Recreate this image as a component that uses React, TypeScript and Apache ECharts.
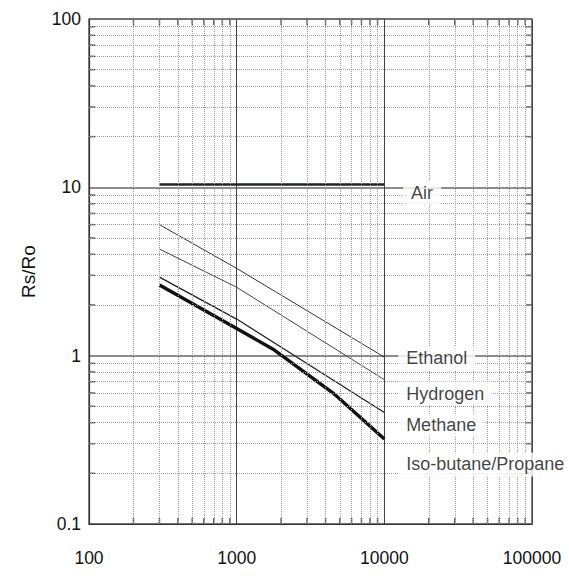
import React, { useEffect, useRef } from "react";
import * as echarts from "echarts";

// Axis tick labels
const xTickLabels = ["100", "1000", "10000", "100000"];
const yTickLabels = ["0.1", "1", "10", "100"];

// Decades and minor multipliers for the log grid
const xDecades = [100, 1000, 10000];
const yDecades = [0.1, 1, 10];
const minorMultipliers = [2, 3, 4, 5, 6, 7, 8, 9];

// Sensitivity curves (concentration ppm vs Rs/Ro)
const airX = [300, 10000];
const airY = [10.4, 10.4];
const ethanolX = [300, 1000, 10000];
const ethanolY = [6.0, 3.3, 0.98];
const hydrogenX = [300, 1000, 10000];
const hydrogenY = [4.3, 2.55, 0.72];
const methaneX = [300, 1000, 10000];
const methaneY = [2.93, 1.65, 0.46];
const isoX = [300, 1000, 1800, 4500, 10000];
const isoY = [2.63, 1.45, 1.08, 0.6, 0.32];

// Curve labels
const labelNames = ["Air", "Ethanol", "Hydrogen", "Methane", "Iso-butane/Propane"];
const labelAnchorX = [13400, 12400, 12400, 12400, 12400];
const labelAnchorY = [9.3, 0.97, 0.596, 0.385, 0.226];

const FONT = "'Liberation Sans', Arial, Helvetica, sans-serif";

const zip = (xs: number[], ys: number[]) => xs.map((x, i) => [x, ys[i]]);

export default function App() {
  const ref = useRef<HTMLDivElement>(null);

  useEffect(() => {
    if (!ref.current) return;
    const chart = echarts.init(ref.current, undefined, { renderer: "svg" });

    const xMinor: number[] = [];
    xDecades.forEach((d) => minorMultipliers.forEach((m) => xMinor.push(d * m)));
    const yMinor: number[] = [];
    yDecades.forEach((d) => minorMultipliers.forEach((m) => yMinor.push(+(d * m).toPrecision(3))));

    const minorLine = { color: "#9a9a9a", width: 1, type: "dotted" as const };

    const tickSeries = (data: number[][], size: number[], offset: number[]) => ({
      type: "scatter",
      data,
      symbol: "rect",
      symbolSize: size,
      symbolOffset: offset,
      itemStyle: { color: "#333" },
      silent: true,
      z: 4,
      clip: false,
    });

    const lineSeries = (name: string, xs: number[], ys: number[], width: number, color: string) => ({
      name,
      type: "line",
      data: zip(xs, ys),
      showSymbol: false,
      symbol: "none",
      lineStyle: { width, color },
      silent: true,
      z: 3,
    });

    chart.setOption({
      animation: false,
      backgroundColor: "#fff",
      grid: {
        left: 89,
        right: 37,
        top: 19,
        bottom: 55,
        show: true,
        borderColor: "#333",
        borderWidth: 1.2,
      },
      xAxis: {
        type: "log",
        logBase: 10,
        min: 100,
        max: 100000,
        axisLine: { show: true, lineStyle: { color: "#333", width: 1.2 } },
        axisTick: { show: false },
        axisLabel: {
          margin: 25,
          fontSize: 17.5,
          fontFamily: FONT,
          color: "#111",
          formatter: (v: number) => xTickLabels[Math.round(Math.log10(v)) - 2] ?? "",
        },
        splitLine: { show: true, lineStyle: { color: "#444", width: 1 } },
      },
      yAxis: {
        type: "log",
        logBase: 10,
        min: 0.1,
        max: 100,
        name: "Rs/Ro",
        nameLocation: "middle",
        nameGap: 51,
        nameTextStyle: { fontSize: 19, fontFamily: FONT, color: "#111" },
        axisLine: { show: true, lineStyle: { color: "#333", width: 1.2 } },
        axisTick: { show: false },
        axisLabel: {
          margin: 8,
          fontSize: 17.5,
          fontFamily: FONT,
          color: "#111",
          formatter: (v: number) => yTickLabels[Math.round(Math.log10(v)) + 1] ?? "",
        },
        splitLine: { show: true, lineStyle: { color: "#666", width: 1.5 } },
      },
      series: [
        {
          type: "line",
          data: [],
          silent: true,
          z: 1,
          markLine: {
            silent: true,
            symbol: "none",
            label: { show: false },
            lineStyle: minorLine,
            data: [
              ...xMinor.map((v) => ({ xAxis: v })),
              ...yMinor.map((v) => ({ yAxis: v })),
            ],
          },
        },
        tickSeries(yMinor.map((v) => [100, v]), [6, 1.5], [3, 0]),
        tickSeries(yMinor.map((v) => [100000, v]), [6, 1.5], [-3, 0]),
        tickSeries(xMinor.map((v) => [v, 0.1]), [1.5, 6], [0, -3]),
        tickSeries(xMinor.map((v) => [v, 100]), [1.5, 6], [0, 3]),
        lineSeries("Air", airX, airY, 2.6, "#1c2633"),
        lineSeries("Ethanol", ethanolX, ethanolY, 1, "#333"),
        lineSeries("Hydrogen", hydrogenX, hydrogenY, 1, "#444"),
        lineSeries("Methane", methaneX, methaneY, 1.3, "#222"),
        lineSeries("Iso-butane/Propane", isoX, isoY, 3.4, "#111"),
        {
          type: "scatter",
          data: labelNames.map((n, i) => ({ name: n, value: [labelAnchorX[i], labelAnchorY[i]] })),
          symbolSize: 0,
          silent: true,
          z: 6,
          label: {
            show: true,
            position: "right",
            distance: 0,
            formatter: (p: any) => p.name,
            fontSize: 18,
            fontFamily: FONT,
            color: "#111",
            backgroundColor: "#fff",
            padding: [3, 8, 3, 8],
          },
        },
      ],
    });

    return () => chart.dispose();
  }, []);

  return (
    <div
      ref={ref}
      style={{ position: "fixed", left: 0, top: 0, width: 569, height: 579, background: "#fff" }}
    />
  );
}
